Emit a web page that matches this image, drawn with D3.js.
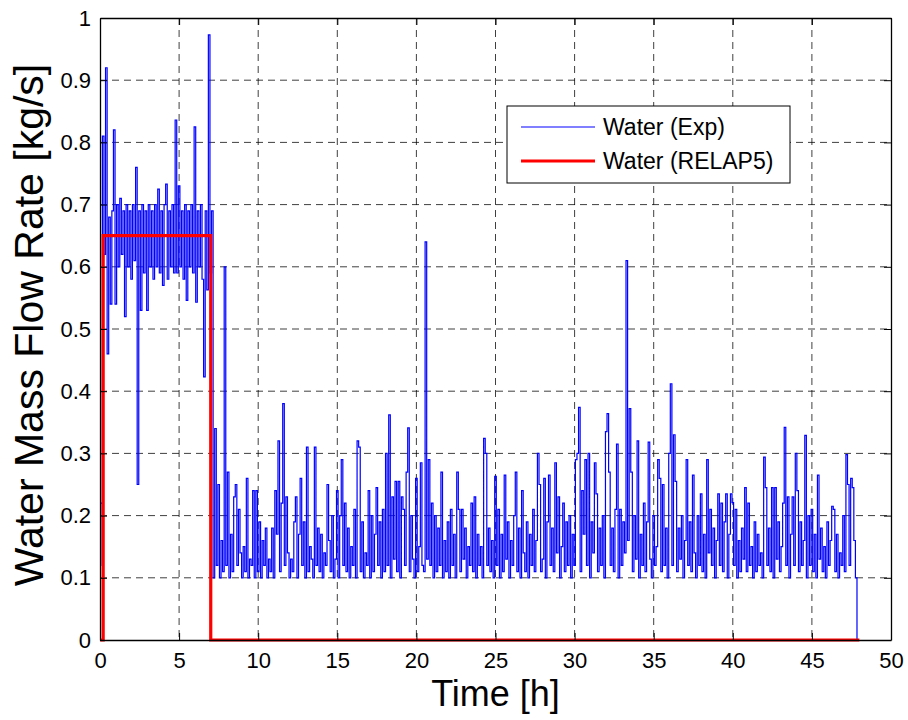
<!DOCTYPE html>
<html><head><meta charset="utf-8">
<script src="https://cdn.jsdelivr.net/npm/d3@7"></script>
<style>body{margin:0;background:#fff}svg{display:block}text{font-family:"Liberation Sans",Arial,sans-serif}</style>
</head><body>
<svg id="c" width="908" height="720"></svg>
<script>
// ---- data ----
const expStep = 0.1; // hours between experimental samples
const expPhase1 = [0.12,0.22,0.81,0.62,0.92,0.46,0.68,0.54,0.69,0.82,
  0.54,0.70,0.60,0.71,0.62,0.69,0.52,0.70,0.60,0.69,
  0.58,0.70,0.61,0.76,0.25,0.69,0.53,0.70,0.59,0.69,
  0.53,0.70,0.60,0.69,0.58,0.70,0.60,0.725,0.59,0.69,
  0.57,0.70,0.733,0.58,0.69,0.60,0.70,0.59,0.836,0.59,
  0.73,0.60,0.69,0.58,0.70,0.546,0.69,0.60,0.70,0.59,
  0.825,0.543,0.69,0.60,0.70,0.58,0.423,0.69,0.563,0.973,
  0.59,0.69];
const expPhase2 = [0.10,0.34,0.12,0.25,0.10,0.16,0.11,0.60,
  0.12,0.27,0.10,0.17,0.11,0.23,0.25,0.12,0.21,0.14,
  0.10,0.15,0.11,0.26,0.10,0.13,0.12,0.24,0.10,0.24,
  0.11,0.19,0.10,0.16,0.12,0.18,0.10,0.13,0.11,0.18,
  0.10,0.24,0.17,0.32,0.11,0.22,0.38,0.12,0.23,0.14,
  0.10,0.13,0.11,0.19,0.23,0.10,0.17,0.26,0.12,0.19,
  0.10,0.31,0.11,0.15,0.13,0.10,0.31,0.12,0.18,0.11,
  0.17,0.10,0.14,0.12,0.25,0.16,0.11,0.20,0.10,0.13,
  0.24,0.10,0.20,0.29,0.12,0.22,0.11,0.18,0.10,0.15,
  0.12,0.21,0.10,0.32,0.31,0.11,0.19,0.10,0.14,0.12,
  0.24,0.10,0.20,0.11,0.17,0.245,0.12,0.19,0.10,0.21,
  0.11,0.30,0.12,0.362,0.10,0.23,0.13,0.255,0.11,0.255,
  0.10,0.23,0.21,0.12,0.27,0.341,0.11,0.20,0.13,0.10,
  0.26,0.11,0.15,0.285,0.12,0.11,0.64,0.13,0.29,0.12,
  0.22,0.10,0.20,0.11,0.18,0.12,0.27,0.10,0.16,0.11,
  0.19,0.10,0.21,0.12,0.17,0.10,0.27,0.21,0.11,0.21,
  0.13,0.18,0.10,0.15,0.12,0.22,0.11,0.23,0.10,0.17,
  0.12,0.15,0.10,0.324,0.30,0.12,0.18,0.11,0.16,0.10,
  0.263,0.12,0.21,0.10,0.17,0.11,0.265,0.13,0.19,0.10,
  0.16,0.12,0.20,0.27,0.11,0.18,0.10,0.24,0.14,0.11,
  0.19,0.10,0.17,0.12,0.21,0.11,0.16,0.30,0.25,0.11,
  0.13,0.26,0.10,0.19,0.265,0.12,0.18,0.11,0.285,0.14,
  0.23,0.10,0.15,0.22,0.11,0.19,0.12,0.20,0.10,0.17,
  0.12,0.29,0.30,0.374,0.11,0.24,0.17,0.29,0.12,0.30,
  0.10,0.19,0.14,0.285,0.235,0.11,0.18,0.12,0.20,0.10,
  0.335,0.364,0.27,0.12,0.18,0.11,0.21,0.315,0.10,0.21,
  0.12,0.19,0.14,0.61,0.16,0.372,0.27,0.11,0.20,0.13,
  0.32,0.10,0.17,0.12,0.22,0.11,0.19,0.318,0.13,0.10,
  0.20,0.12,0.15,0.29,0.26,0.11,0.25,0.12,0.18,0.10,
  0.30,0.412,0.12,0.33,0.255,0.11,0.18,0.13,0.20,0.10,
  0.16,0.29,0.12,0.19,0.11,0.265,0.14,0.10,0.20,0.12,
  0.235,0.11,0.17,0.10,0.29,0.14,0.21,0.12,0.18,0.10,
  0.16,0.235,0.12,0.22,0.11,0.19,0.235,0.10,0.17,0.235,
  0.221,0.12,0.21,0.10,0.16,0.11,0.18,0.13,0.245,0.11,
  0.22,0.12,0.15,0.10,0.19,0.11,0.17,0.12,0.14,0.10,
  0.294,0.245,0.12,0.18,0.11,0.245,0.10,0.245,0.13,0.19,
  0.11,0.15,0.22,0.342,0.12,0.23,0.10,0.17,0.23,0.12,
  0.30,0.24,0.11,0.19,0.12,0.16,0.329,0.10,0.20,0.12,
  0.21,0.11,0.17,0.10,0.265,0.13,0.18,0.11,0.15,0.10,
  0.19,0.12,0.16,0.215,0.21,0.11,0.17,0.10,0.14,0.12,
  0.20,0.11,0.298,0.25,0.12,0.26,0.245,0.16,0.10,0.00];
const relapTime = [0, 0.2, 0.2, 7.0, 7.0, 48.0];
const relapValue = [0, 0, 0.65, 0.65, 0, 0];
const xTicks = [0,5,10,15,20,25,30,35,40,45,50];
const yTicks = [0,0.1,0.2,0.3,0.4,0.5,0.6,0.7,0.8,0.9,1];
const seriesNames = ["Water (Exp)", "Water (RELAP5)"];
const xTitle = "Time [h]";
const yTitle = "Water Mass Flow Rate [kg/s]";

// ---- layout ----
const L = 100, R = 891, T = 18, B = 640;
const svg = d3.select("#c");
const x = d3.scaleLinear().domain([0,50]).range([L,R]);
const y = d3.scaleLinear().domain([0,1]).range([B,T]);

const expVals = expPhase1.concat(expPhase2);
const expData = expVals.map((v,i)=>({t:+(i*expStep).toFixed(2), v}));
const relData = relapTime.map((t,i)=>({t, v:relapValue[i]}));

// grid
const g = svg.append("g");
g.selectAll("line.gx").data(xTicks.slice(1,-1)).enter().append("line")
  .attr("x1",d=>x(d)).attr("x2",d=>x(d)).attr("y1",T).attr("y2",B)
  .attr("stroke","#000").attr("stroke-width",1).attr("stroke-dasharray","7,5").attr("opacity",0.75);
g.selectAll("line.gy").data(yTicks.slice(1,-1)).enter().append("line")
  .attr("x1",L).attr("x2",R).attr("y1",d=>y(d)).attr("y2",d=>y(d))
  .attr("stroke","#000").attr("stroke-width",1).attr("stroke-dasharray","7,5").attr("opacity",0.75);

svg.append("clipPath").attr("id","pc").append("rect")
  .attr("x",L).attr("y",T-2).attr("width",R-L).attr("height",B-T+4);

const stepLine = d3.line().x(d=>x(d.t)).y(d=>y(d.v)).curve(d3.curveStep);
const line = d3.line().x(d=>x(d.t)).y(d=>y(d.v));
svg.append("path").datum(expData).attr("d",stepLine).attr("fill","none")
  .attr("stroke","#0000ff").attr("stroke-width",1.2).attr("clip-path","url(#pc)");
svg.append("path").datum(relData).attr("d",line).attr("fill","none")
  .attr("stroke","#ff0000").attr("stroke-width",3.2).attr("stroke-linejoin","miter");

// axes (inward ticks, box)
const fs = "22px";
const axB = svg.append("g").attr("transform",`translate(0,${B})`)
  .call(d3.axisBottom(x).tickValues(xTicks).tickSizeInner(-7).tickSizeOuter(0).tickPadding(12));
const axT = svg.append("g").attr("transform",`translate(0,${T})`)
  .call(d3.axisTop(x).tickValues(xTicks).tickSizeInner(-7).tickSizeOuter(0).tickFormat(""));
const axL = svg.append("g").attr("transform",`translate(${L},0)`)
  .call(d3.axisLeft(y).tickValues(yTicks).tickSizeInner(-7).tickSizeOuter(0).tickPadding(9).tickFormat(d3.format("~g")));
const axR = svg.append("g").attr("transform",`translate(${R},0)`)
  .call(d3.axisRight(y).tickValues(yTicks).tickSizeInner(-7).tickSizeOuter(0).tickFormat(""));
[axB,axT,axL,axR].forEach(a=>{
  a.select(".domain").attr("stroke","#000").attr("stroke-width",1.3);
  a.selectAll(".tick line").attr("stroke","#000").attr("stroke-width",1);
  a.selectAll("text").attr("font-family","Liberation Sans, Arial, sans-serif").attr("font-size",fs).attr("fill","#000");
});

// titles
svg.append("text").attr("x",(L+R)/2).attr("y",706).attr("text-anchor","middle")
  .attr("font-size","36px").text(xTitle);
svg.append("text").attr("transform",`translate(43,325) rotate(-90)`).attr("text-anchor","middle")
  .attr("font-size","41px").text(yTitle);

// legend
const lg = svg.append("g");
lg.append("rect").attr("x",507).attr("y",106).attr("width",283).attr("height",77)
  .attr("fill","#fff").attr("stroke","#000").attr("stroke-width",1);
const legColors = ["#0000ff","#ff0000"], legW = [1.1,3.2];
seriesNames.forEach((n,i)=>{
  const yy = 127 + i*34;
  lg.append("line").attr("x1",521).attr("x2",595).attr("y1",yy).attr("y2",yy)
    .attr("stroke",legColors[i]).attr("stroke-width",legW[i]);
  lg.append("text").attr("x",603).attr("y",yy+8).attr("font-size","23px").text(n);
});
</script>
</body></html>
